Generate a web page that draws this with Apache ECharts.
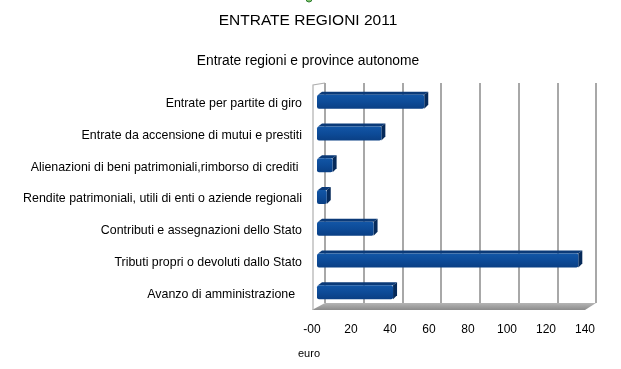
<!DOCTYPE html>
<html>
<head>
<meta charset="utf-8">
<script src="https://cdn.jsdelivr.net/npm/echarts@6/dist/echarts.min.js"></script>
<style>html,body{margin:0;padding:0;background:#fff}#c{width:621px;height:369px}</style>
</head>
<body>
<div id="c"></div>
<script>
const categories = [
  'Avanzo di amministrazione  ',
  'Tributi propri o devoluti dallo Stato',
  'Contributi e assegnazioni dello Stato',
  'Rendite patrimoniali, utili di enti o aziende regionali',
  'Alienazioni di beni patrimoniali,rimborso di crediti ',
  'Entrate da accensione di mutui e prestiti',
  'Entrate per partite di giro'
];
const values = [39, 134, 29, 5, 8, 33, 55];
const tickLabels = ['-00', '20', '40', '60', '80', '100', '120', '140'];
const titleText = 'ENTRATE REGIONI 2011';
const subtitleText = 'Entrate regioni e province autonome';
const axisName = 'euro';

const FONT = 'Liberation Sans, Arial, sans-serif';
// layout
const FL = 312, FT = 88, FW = 273, FH = 222;   // front plane
const BL = 325, BT = 83, BW = 271, BH = 220;   // back wall

const chart = echarts.init(document.getElementById('c'));

function renderBar(params, api) {
  const idx = api.value(0);
  const v = api.value(1);
  const p0 = api.coord([0, idx]);
  const p1 = api.coord([v, idx]);
  const sx = 5, sy = -3.5;
  const h = 14, dx = 4, dy = -3;
  const x0 = p0[0] + sx, x1 = p1[0] + sx;
  const yc = p0[1] + sy + 1.5;
  const yT = yc - h / 2, yB = yc + h / 2;
  return {
    type: 'group',
    children: [
      { type: 'polygon', shape: { points: [[x0 + 1, yT], [x1, yT], [x1 + dx, yT + dy], [x0 + dx + 1, yT + dy]] },
        style: { fill: '#0b3a78' } },
      { type: 'polygon', shape: { points: [[x1, yT], [x1 + dx, yT + dy], [x1 + dx, yB + dy - 1], [x1, yB]] },
        style: { fill: '#062a5a' } },
      { type: 'rect', shape: { x: x0, y: yT, width: Math.max(x1 - x0, 1), height: h, r: 2 },
        style: { fill: new echarts.graphic.LinearGradient(0, 0, 0, 1, [
          { offset: 0, color: '#1256a6' }, { offset: 0.5, color: '#0d4b98' }, { offset: 1, color: '#0a3f84' }]) } }
    ]
  };
}

const gridColor = '#a8a8a8';

const option = {
  animation: false,
  backgroundColor: '#fff',
  grid: [
    { left: FL, top: FT, width: FW, height: FH, containLabel: false },
    { left: BL, top: BT, width: BW, height: BH, containLabel: false }
  ],
  xAxis: [
    { gridIndex: 0, type: 'value', min: 0, max: 140, interval: 20,
      axisLine: { show: false }, axisTick: { show: false }, splitLine: { show: false },
      axisLabel: { margin: 14, fontFamily: FONT, fontSize: 12, color: '#000',
        formatter: (val) => tickLabels[Math.round(val / 20)] } },
    { gridIndex: 1, type: 'value', min: 0, max: 140, interval: 20,
      axisLine: { show: false }, axisTick: { show: false }, axisLabel: { show: false },
      splitLine: { show: true, lineStyle: { color: gridColor, width: 2 } } }
  ],
  yAxis: [
    { gridIndex: 0, type: 'category', data: categories,
      axisLine: { show: false }, axisTick: { show: false },
      axisLabel: { margin: 10, fontFamily: FONT, fontSize: 12.4, color: '#000' } },
    { gridIndex: 1, type: 'category', data: categories, show: false }
  ],
  graphic: [
    { type: 'circle', shape: { cx: 309, cy: -1, r: 3 }, style: { fill: '#7fc36a', stroke: '#2e7d32', lineWidth: 1 } },
    { type: 'text', x: 308, y: 21, style: { text: titleText, font: '15.5px ' + FONT, fill: '#000', textAlign: 'center', textVerticalAlign: 'middle' } },
    { type: 'text', x: 308, y: 61, style: { text: subtitleText, font: '13.8px ' + FONT, fill: '#000', textAlign: 'center', textVerticalAlign: 'middle' } },
    { type: 'text', x: 298, y: 354, style: { text: axisName, font: '11px ' + FONT, fill: '#000', textAlign: 'left', textVerticalAlign: 'middle' } },
    // floor
    { type: 'polygon', z: -1, shape: { points: [[FL, FT + FH], [FL + FW, FT + FH], [BL + BW, BT + BH], [BL, BT + BH]] },
      style: { fill: new echarts.graphic.LinearGradient(0, 0, 0, 1, [{ offset: 0, color: '#b5b5b5' }, { offset: 1, color: '#8c8c8c' }]) } },
    // left wall
    { type: 'polyline', shape: { points: [[FL + 1, FT + FH], [FL + 1, FT - 3], [BL, BT]] }, style: { stroke: '#b0b0b0', lineWidth: 1.2, fill: null } }
  ],
  series: [
    { type: 'custom', xAxisIndex: 0, yAxisIndex: 0, renderItem: renderBar,
      encode: { x: 1, y: 0 },
      data: values.map((v, i) => [i, v]) }
  ]
};
chart.setOption(option);
</script>
</body>
</html>
